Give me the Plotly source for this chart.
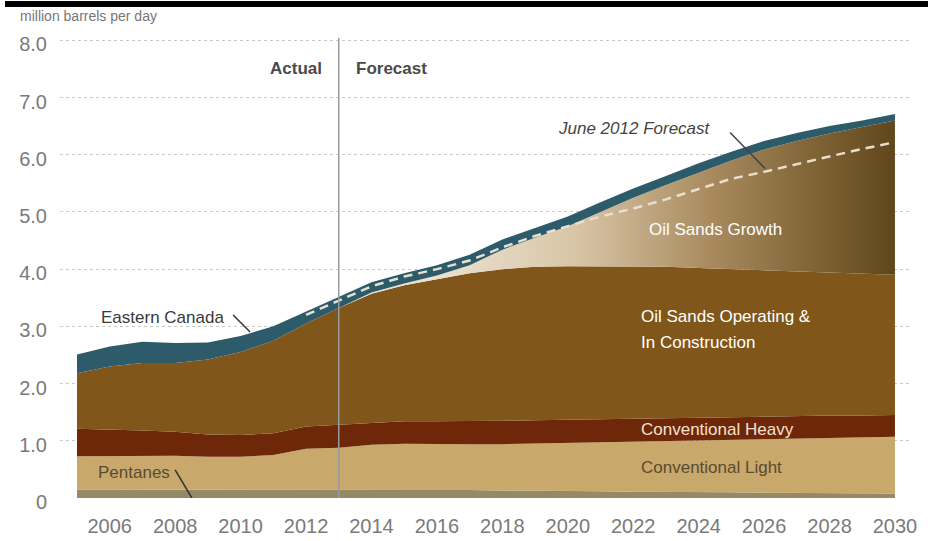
import plotly.graph_objects as go

years = list(range(2005, 2031))

pentanes = [0.15, 0.15, 0.15, 0.15, 0.15, 0.15, 0.15, 0.15, 0.15, 0.15, 0.15, 0.14, 0.14,
            0.13, 0.13, 0.12, 0.12, 0.11, 0.11, 0.10, 0.10, 0.09, 0.09, 0.08, 0.08, 0.08]
conventional_light = [0.58, 0.58, 0.59, 0.59, 0.57, 0.57, 0.60, 0.71, 0.73, 0.78, 0.80, 0.80, 0.80,
                      0.81, 0.82, 0.84, 0.85, 0.87, 0.88, 0.90, 0.91, 0.93, 0.94, 0.97, 0.98, 0.99]
conventional_heavy = [0.48, 0.47, 0.44, 0.42, 0.39, 0.38, 0.38, 0.39, 0.40, 0.39, 0.39, 0.40, 0.40,
                      0.41, 0.41, 0.41, 0.41, 0.41, 0.40, 0.40, 0.40, 0.40, 0.40, 0.39, 0.38, 0.38]
oil_sands_operating = [0.97, 1.10, 1.18, 1.20, 1.31, 1.45, 1.62, 1.80, 2.04, 2.25, 2.38, 2.49, 2.59,
                       2.65, 2.68, 2.68, 2.67, 2.66, 2.65, 2.62, 2.59, 2.56, 2.53, 2.50, 2.48, 2.45]
oil_sands_growth = [0, 0, 0, 0, 0, 0, 0, 0, 0, 0.02, 0.03, 0.06, 0.14,
                    0.34, 0.51, 0.70, 0.95, 1.20, 1.43, 1.67, 1.90, 2.11, 2.28, 2.43, 2.56, 2.70]
eastern_canada = [0.33, 0.35, 0.37, 0.35, 0.30, 0.28, 0.25, 0.21, 0.19, 0.18, 0.18, 0.18, 0.18,
                  0.18, 0.17, 0.17, 0.17, 0.16, 0.16, 0.16, 0.15, 0.15, 0.14, 0.13, 0.12, 0.11]

forecast_years = list(range(2012, 2031))
june_2012_forecast = [3.20, 3.45, 3.70, 3.87, 4.00, 4.15, 4.38, 4.58, 4.75, 4.92, 5.06, 5.22,
                      5.40, 5.58, 5.70, 5.84, 5.97, 6.10, 6.22]

y_tick_vals = [0, 1, 2, 3, 4, 5, 6, 7, 8]
y_tick_text = ["0", "1.0", "2.0", "3.0", "4.0", "5.0", "6.0", "7.0", "8.0"]
x_tick_vals = list(range(2006, 2031, 2))

FONT = "Liberation Sans, Arial, sans-serif"

fig = go.Figure()

series = [
    ("Pentanes", pentanes, "#948a66"),
    ("Conventional Light", conventional_light, "#c8a86b"),
    ("Conventional Heavy", conventional_heavy, "#6e2709"),
    ("Oil Sands Operating & In Construction", oil_sands_operating, "#80561a"),
]
for name, vals, col in series:
    fig.add_trace(go.Scatter(x=years, y=vals, name=name, stackgroup="s", mode="lines",
                             line=dict(width=0, color=col), fillcolor=col, hoverinfo="skip"))

fig.add_trace(go.Scatter(
    x=years, y=oil_sands_growth, name="Oil Sands Growth", stackgroup="s", mode="lines",
    line=dict(width=0, color="#b09068"), hoverinfo="skip",
    fillgradient=dict(type="horizontal", start=2016, stop=2030,
                      colorscale=[[0, "#ebe1d1"], [0.3, "#d9c6a7"], [0.6, "#a88a5e"], [1, "#60461a"]]),
))
fig.add_trace(go.Scatter(x=years, y=eastern_canada, name="Eastern Canada", stackgroup="s", mode="lines",
                         line=dict(width=0, color="#2d5b69"), fillcolor="#2d5b69", hoverinfo="skip"))

fig.add_trace(go.Scatter(x=forecast_years, y=june_2012_forecast, name="June 2012 Forecast", mode="lines",
                         line=dict(color="#e8dfcf", width=2.5, dash="9px,6px"), hoverinfo="skip"))

shapes = [
    dict(type="line", xref="x", yref="y", x0=2013, x1=2013, y0=0, y1=8.1,
         line=dict(color="#9a9a9a", width=1.5), layer="above"),
    dict(type="line", xref="x", yref="y", x0=2024.96, y0=6.39, x1=2026.03, y1=5.76,
         line=dict(color="#444", width=1.5), layer="above"),
    dict(type="line", xref="x", yref="y", x0=2009.77, y0=3.20, x1=2010.29, y1=2.90,
         line=dict(color="#333", width=1.5), layer="above"),
    dict(type="line", xref="x", yref="y", x0=2008.0, y0=0.49, x1=2008.51, y1=0.0,
         line=dict(color="#333", width=1.5), layer="above"),
    dict(type="rect", xref="paper", yref="paper", x0=-0.0647, x1=1.03, y0=1.0674, y1=1.0804,
         fillcolor="black", line=dict(width=0)),
]

def ann(text, x, y, color, size=17, xanchor="center", xshift=0, bold=False, italic=False, xref="x", yref="y"):
    return dict(text=text, x=x, y=y, xref=xref, yref=yref, showarrow=False, xanchor=xanchor,
                yanchor="middle", xshift=xshift,
                font=dict(family=FONT, size=size, color=color,
                          weight="bold" if bold else "normal",
                          style="italic" if italic else "normal"))

annotations = [
    ann("Actual", 2013, 7.5, "#4a4a4a", xanchor="right", xshift=-15, bold=True),
    ann("Forecast", 2013, 7.5, "#4a4a4a", xanchor="left", xshift=15, bold=True),
    ann("June 2012 Forecast", 2022.05, 6.46, "#444444", italic=True),
    ann("Eastern Canada", 2007.6, 3.16, "#3a3a3a"),
    ann("Pentanes", 2006.74, 0.45, "#5a4b33"),
    ann("Oil Sands Growth", 2024.53, 4.70, "#ffffff"),
    ann("Oil Sands Operating &", 2022.18, 3.18, "#ffffff", xanchor="left"),
    ann("In Construction", 2022.18, 2.72, "#ffffff", xanchor="left"),
    ann("Conventional Heavy", 2022.18, 1.19, "#f4e0d0", xanchor="left"),
    ann("Conventional Light", 2022.18, 0.54, "#5b4a2e", xanchor="left"),
    ann("million barrels per day", -0.0494, 1.048, "#777777", size=14, xanchor="left",
        xref="paper", yref="paper"),
]

fig.update_layout(
    width=928, height=541,
    margin=dict(l=60, r=18, t=38, b=43),
    paper_bgcolor="white", plot_bgcolor="white",
    showlegend=False, hovermode=False,
    font=dict(family=FONT),
    shapes=shapes, annotations=annotations,
    xaxis=dict(range=[2004.48, 2030.46], tickvals=x_tick_vals, showgrid=False, zeroline=False,
               showline=False, ticks="", ticklabelstandoff=14, automargin=False,
               tickfont=dict(family=FONT, size=20, color="#7a7a7a")),
    yaxis=dict(range=[0, 8.04], tickvals=y_tick_vals, ticktext=y_tick_text, showgrid=True,
               gridcolor="#c8c8c8", griddash="3px,3px", gridwidth=1, zeroline=False,
               showline=False, ticks="", ticklabelstandoff=12, ticklabelshift=4, automargin=False,
               tickfont=dict(family=FONT, size=20, color="#7a7a7a")),
)

fig.write_html("out.html", config={"displayModeBar": False},
               post_script="document.body.style.margin='0';document.body.style.overflow='hidden';")
